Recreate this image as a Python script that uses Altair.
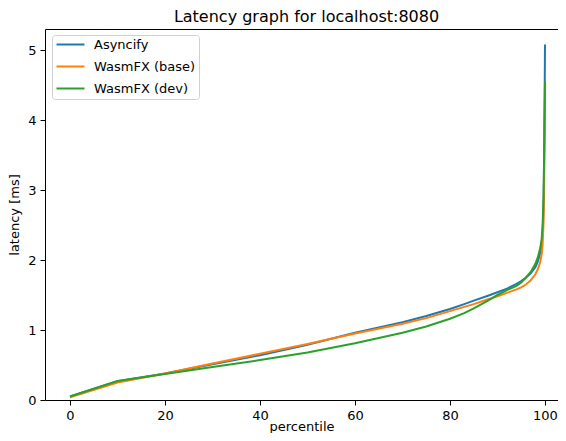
import altair as alt
import pandas as pd

percentiles = [0, 10, 20, 30, 40, 50, 60, 70, 75, 80, 83, 85, 88, 90, 92, 94, 95, 96, 97, 98,
               98.5, 99, 99.3, 99.5, 99.7, 99.8, 99.9, 100]
asyncify = [0.05, 0.27, 0.38, 0.51, 0.64, 0.79, 0.96, 1.11, 1.20, 1.30, 1.37, 1.42, 1.49, 1.54,
            1.59, 1.66, 1.70, 1.75, 1.81, 1.90, 1.98, 2.10, 2.22, 2.38, 2.75, 3.3, 4.0, 5.08]
wasmfx_base = [0.04, 0.25, 0.38, 0.52, 0.66, 0.80, 0.95, 1.09, 1.17, 1.27, 1.33, 1.37, 1.44,
               1.48, 1.53, 1.58, 1.61, 1.65, 1.71, 1.80, 1.87, 1.97, 2.08, 2.22, 2.55, 3.0, 3.6, 4.3]
wasmfx_dev = [0.05, 0.27, 0.37, 0.47, 0.57, 0.68, 0.81, 0.96, 1.05, 1.16, 1.24, 1.31, 1.42,
              1.50, 1.57, 1.63, 1.68, 1.75, 1.83, 1.95, 2.04, 2.17, 2.30, 2.50, 2.9, 3.4, 4.0, 4.55]

series_names = ["Asyncify", "WasmFX (base)", "WasmFX (dev)"]
series_colors = ["#1f77b4", "#ff7f0e", "#2ca02c"]
x_ticks = [0, 20, 40, 60, 80, 100]
y_ticks = [0, 1, 2, 3, 4, 5]

rows = []
for name, vals in zip(series_names, [asyncify, wasmfx_base, wasmfx_dev]):
    for i, (p, v) in enumerate(zip(percentiles, vals)):
        rows.append({"series": name, "percentile": p, "latency": v, "idx": i})
df = pd.DataFrame(rows)

FONT = "DejaVu Sans"

xscale = alt.Scale(domain=[-5.263, 102.74], nice=False, zero=False)
yscale = alt.Scale(domain=[0, 5.3], nice=False, zero=False)

lines = alt.Chart(df).mark_line(strokeWidth=2, clip=True).encode(
    x=alt.X("percentile:Q", scale=xscale,
            axis=alt.Axis(values=x_ticks, title="percentile", grid=False,
                          labelFontSize=13, titleFontSize=13, labelFont=FONT, titleFont=FONT,
                          titleFontWeight="normal", labelColor="#000", titleColor="#000",
                          domainColor="#000", tickColor="#000", tickSize=5, labelPadding=4,
                          titlePadding=-2, labelFlush=False)),
    y=alt.Y("latency:Q", scale=yscale,
            axis=alt.Axis(values=y_ticks, title="latency [ms]", grid=False,
                          labelFontSize=13, titleFontSize=13, labelFont=FONT, titleFont=FONT,
                          titleFontWeight="normal", labelColor="#000", titleColor="#000",
                          domainColor="#000", tickColor="#000", tickSize=5, labelPadding=4,
                          titlePadding=6, labelFlush=False)),
    color=alt.Color("series:N",
                    scale=alt.Scale(domain=series_names, range=series_colors),
                    legend=alt.Legend(title=None, orient="none", legendX=7, legendY=6,
                                      symbolType="M-1,0L4.6,0", symbolSize=100,
                                      symbolStrokeWidth=2,
                                      labelFontSize=13, labelFont=FONT, labelColor="#000",
                                      rowPadding=8, labelOffset=26, padding=3,
                                      strokeColor="#d0d0d0", fillColor="white",
                                      cornerRadius=3)),
    order="idx:Q",
)

top_spine = alt.Chart(df).mark_point(opacity=0).encode(
    x=alt.X("percentile:Q", scale=xscale,
            axis=alt.Axis(orient="top", labels=False, ticks=False, title=None, grid=False,
                          domainColor="#000")),
)

chart = alt.layer(lines, top_spine).resolve_axis(x="independent").properties(
    width=513,
    height=371,
    autosize=alt.AutoSizeParams(type="none"),
    padding={"left": 37, "top": 21, "right": 0, "bottom": 33},
    title=alt.Title("Latency graph for localhost:8080", fontSize=16, fontWeight="normal",
                    font=FONT, color="#000", offset=4, dx=5),
).configure_view(stroke=None)

chart.save("out.html", embed_options={"renderer": "svg", "actions": False})
